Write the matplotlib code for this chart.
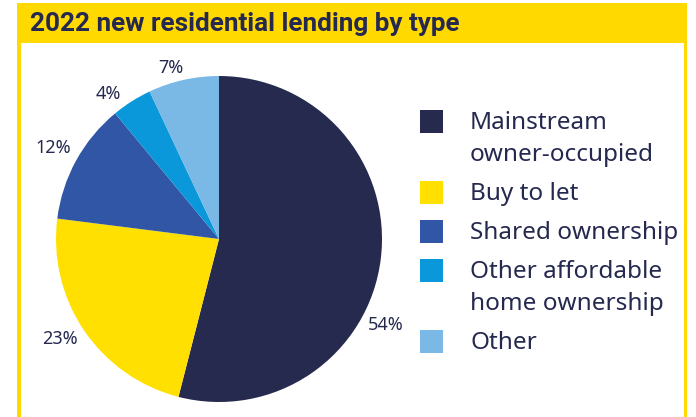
import numpy as np
import matplotlib
matplotlib.use("Agg")
import matplotlib.pyplot as plt
from matplotlib.patches import Rectangle

# data
categories = ["Mainstream\nowner-occupied", "Buy to let", "Shared ownership",
              "Other affordable\nhome ownership", "Other"]
shares = [54, 23, 12, 4, 7]
colors = ["#262a4e", "#ffe000", "#3156a5", "#0a98da", "#7ab8e6"]

navy = "#25294f"
yellow = "#ffd900"
W, H = 696, 417

fig = plt.figure(figsize=(W / 100, H / 100), dpi=100)

def fx(px):
    return px / W

def fy(py):
    return 1 - py / H

# yellow frame and title bar
fig.patches.append(Rectangle((fx(17), 0), fx(687) - fx(17), fy(3), transform=fig.transFigure,
                             facecolor=yellow, edgecolor="none", zorder=-2))
fig.patches.append(Rectangle((fx(21), 0), fx(684) - fx(21), fy(43), transform=fig.transFigure,
                             facecolor="white", edgecolor="none", zorder=-1))
fig.text(fx(30), fy(24), "2022 new residential lending by type", ha="left", va="center",
         fontsize=18.8, fontweight="bold", color=navy,
         family=["Liberation Sans Narrow", "Roboto", "DejaVu Sans"])

# pie: centre (219, 239), radius 163 px
r = 163
ax = fig.add_axes([fx(219 - r), fy(239 + r), 2 * r / W, 2 * r / H])
ax.set_zorder(2)
wedges, _ = ax.pie(shares, colors=colors, startangle=90, counterclock=False,
                   wedgeprops=dict(linewidth=0))
ax.set_xlim(-1, 1)
ax.set_ylim(-1, 1)
ax.set_aspect("equal")
ax.axis("off")

# percentage labels just outside each wedge (54% label pulled down, as in the original)
nudge = [-20, -2, 0, 5, 3]
dist = [1.15, 1.15, 1.16, 1.12, 1.09]
for w, s, n, d in zip(wedges, shares, nudge, dist):
    a = np.deg2rad((w.theta1 + w.theta2) / 2 + n)
    ax.text(d * np.cos(a), d * np.sin(a), f"{s}%", ha="center", va="center",
            fontsize=13, color=navy, family=["Noto Sans", "DejaVu Sans"])

# legend: square beside the first line of each label
y = 121
for lab, col in zip(categories, colors):
    fig.patches.append(Rectangle((fx(420), fy(y + 11.5)), 23 / W, 23 / H,
                                 transform=fig.transFigure, facecolor=col,
                                 edgecolor="none", zorder=3))
    lines = lab.split("\n")
    for i, line in enumerate(lines):
        fig.text(fx(470), fy(y + 2 + 32 * i), line, ha="left", va="center", fontsize=17.5,
                 color=navy, family=["Noto Sans", "DejaVu Sans"])
    y += 39 + 32 * (len(lines) - 1)

fig.savefig("out.png", dpi=100)
